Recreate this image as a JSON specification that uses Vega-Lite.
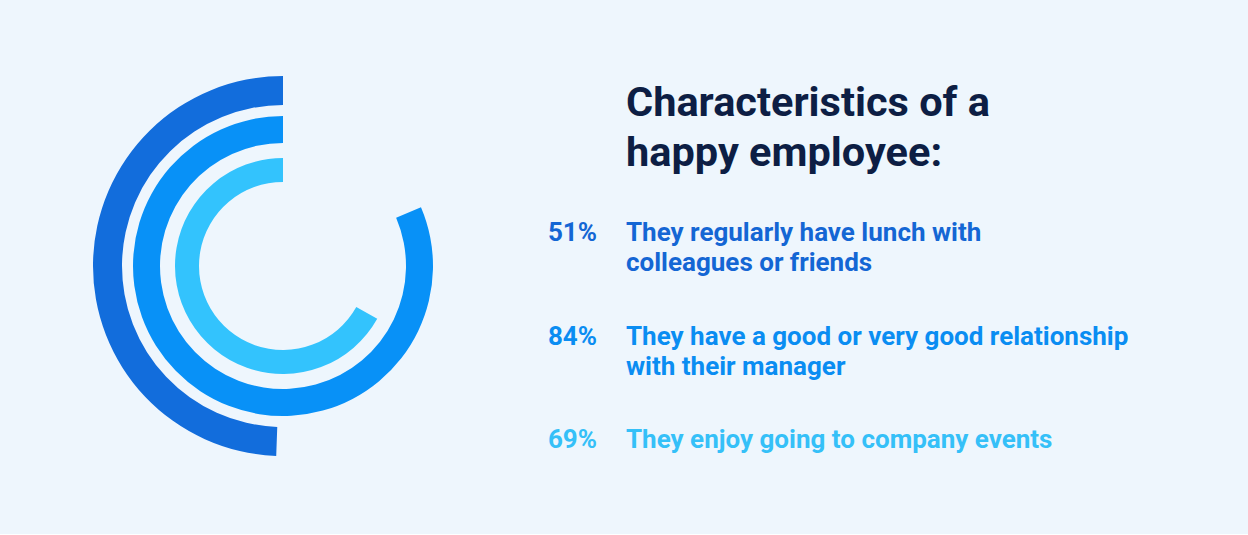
{
  "$schema": "https://vega.github.io/schema/vega-lite/v6.json",
  "background": "#eef6fd",
  "padding": {"left": 0, "top": 76, "right": 0, "bottom": 0},
  "spacing": 29,
  "bounds": "flush",
  "config": {"view": {"stroke": null}, "font": "Roboto"},
  "data": {
    "values": [
      {"item": "51%", "pct": 51, "desc": "They regularly have lunch with\ncolleagues or friends"},
      {"item": "84%", "pct": 84, "desc": "They have a good or very good relationship\nwith their manager"},
      {"item": "69%", "pct": 69, "desc": "They enjoy going to company events"}
    ]
  },
  "hconcat": [
    {
      "width": 566,
      "height": 164,
      "encoding": {
        "theta": {"field": "pct", "type": "quantitative", "stack": null, "scale": {"domain": [0, 100], "range": [0, -6.09]}},
        "theta2": {"datum": 0}
      },
      "layer": [
        {"transform": [{"filter": "datum.item == '51%'"}], "mark": {"type": "arc", "radius": 190, "radius2": 161, "color": "#126ddc"}},
        {"transform": [{"filter": "datum.item == '84%'"}], "mark": {"type": "arc", "radius": 150, "radius2": 123, "color": "#0891f7"}},
        {"transform": [{"filter": "datum.item == '69%'"}], "mark": {"type": "arc", "radius": 108, "radius2": 84, "color": "#33c3fd"}}
      ]
    },
    {
      "width": 2,
      "height": 350,
      "mark": {"type": "text", "align": "right", "baseline": "alphabetic", "x": "width", "fontSize": 26, "fontWeight": 700, "font": "Roboto"},
      "encoding": {
        "y": {"field": "item", "type": "nominal", "scale": {"domain": ["51%", "84%", "69%"], "range": [57, 264], "padding": 0}, "axis": null},
        "text": {"field": "item"},
        "color": {"field": "item", "type": "nominal", "scale": {"domain": ["51%", "84%", "69%"], "range": ["#1466d4", "#0a8df2", "#35c0f8"]}, "legend": null}
      }
    },
    {
      "width": 622,
      "height": 350,
      "title": {
        "text": ["Characteristics of a", "happy employee:"],
        "anchor": "start",
        "frame": "group",
        "fontSize": 41.5,
        "lineHeight": 50,
        "font": "Roboto",
        "fontWeight": 700,
        "color": "#0d1e44",
        "offset": 10
      },
      "mark": {"type": "text", "align": "left", "baseline": "alphabetic", "x": 0, "fontSize": 26, "fontWeight": 700, "font": "Roboto", "lineBreak": "\n", "lineHeight": 30},
      "encoding": {
        "y": {"field": "item", "type": "nominal", "scale": {"domain": ["51%", "84%", "69%"], "range": [57, 264], "padding": 0}, "axis": null},
        "text": {"field": "desc"},
        "color": {"field": "item", "type": "nominal", "scale": {"domain": ["51%", "84%", "69%"], "range": ["#1466d4", "#0a8df2", "#35c0f8"]}, "legend": null}
      }
    }
  ]
}
